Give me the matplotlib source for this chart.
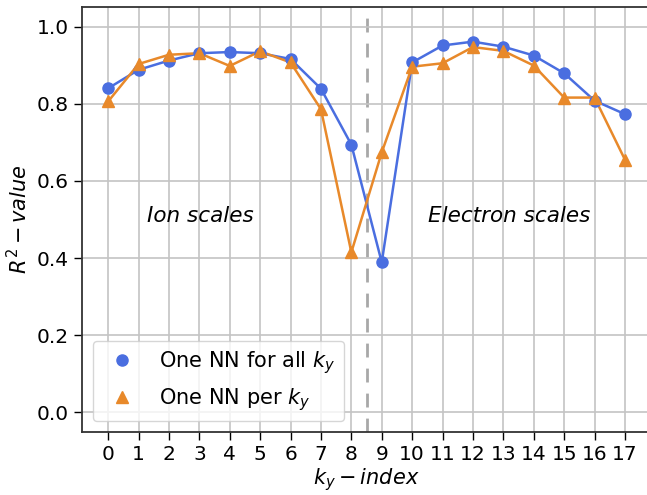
import matplotlib
matplotlib.use("Agg")
import matplotlib.pyplot as plt
import numpy as np

# ky-index and R^2 values
ky_index = np.arange(18)
r2_one_nn_all = [0.840, 0.888, 0.912, 0.931, 0.934, 0.931, 0.916, 0.839, 0.694,
                 0.389, 0.907, 0.951, 0.961, 0.948, 0.925, 0.879, 0.808, 0.773]
r2_one_nn_per = [0.806, 0.903, 0.927, 0.931, 0.898, 0.936, 0.907, 0.786, 0.415,
                 0.674, 0.896, 0.905, 0.947, 0.937, 0.899, 0.816, 0.816, 0.655]

blue = "#4a6ee0"
orange = "#e8892a"
fs = 15
tick_fs = 14.5

fig = plt.figure(figsize=(6.47, 4.95), dpi=100)
# axes placed by hand so the right spine falls just off the canvas
ax = fig.add_axes([82.3 / 647, (495 - 431.7) / 495,
                   (650.8 - 82.3) / 647, (431.7 - 7.3) / 495])

ax.grid(True, color="#c4c4c4", linewidth=1.2, zorder=0)
ax.axvline(8.5, color="#a8a8a8", linestyle=(0, (5, 4)), linewidth=2, zorder=1)

ax.plot(ky_index, r2_one_nn_all, "-", color=blue, linewidth=1.8, zorder=3)
ax.plot(ky_index, r2_one_nn_all, "o", color=blue, markersize=8, zorder=4,
        label=r"One NN for all $k_y$")
ax.plot(ky_index, r2_one_nn_per, "-", color=orange, linewidth=1.8, zorder=3)
ax.plot(ky_index, r2_one_nn_per, "^", color=orange, markersize=8, zorder=4,
        label=r"One NN per $k_y$")

ax.text(3.05, 0.51, "Ion scales", style="italic", fontsize=15.5,
        ha="center", va="center")
ax.text(13.2, 0.51, "Electron scales", style="italic", fontsize=15.5,
        ha="center", va="center")

ax.set_xlim(-0.85, 17.85)
ax.set_ylim(-0.05, 1.05)
ax.set_xticks(ky_index)
ax.set_yticks([0.0, 0.2, 0.4, 0.6, 0.8, 1.0])
ax.tick_params(labelsize=tick_fs, length=6, width=1)
ax.set_xlabel(r"$k_y-index$", fontsize=fs, labelpad=2)
ax.set_ylabel(r"$R^2-value$", fontsize=fs, labelpad=4)

for side in ["left", "bottom", "top", "right"]:
    ax.spines[side].set_linewidth(1.3)
    ax.spines[side].set_color("#333333")

ax.legend(loc="lower left", fontsize=fs)

fig.savefig("out.png", dpi=100)
